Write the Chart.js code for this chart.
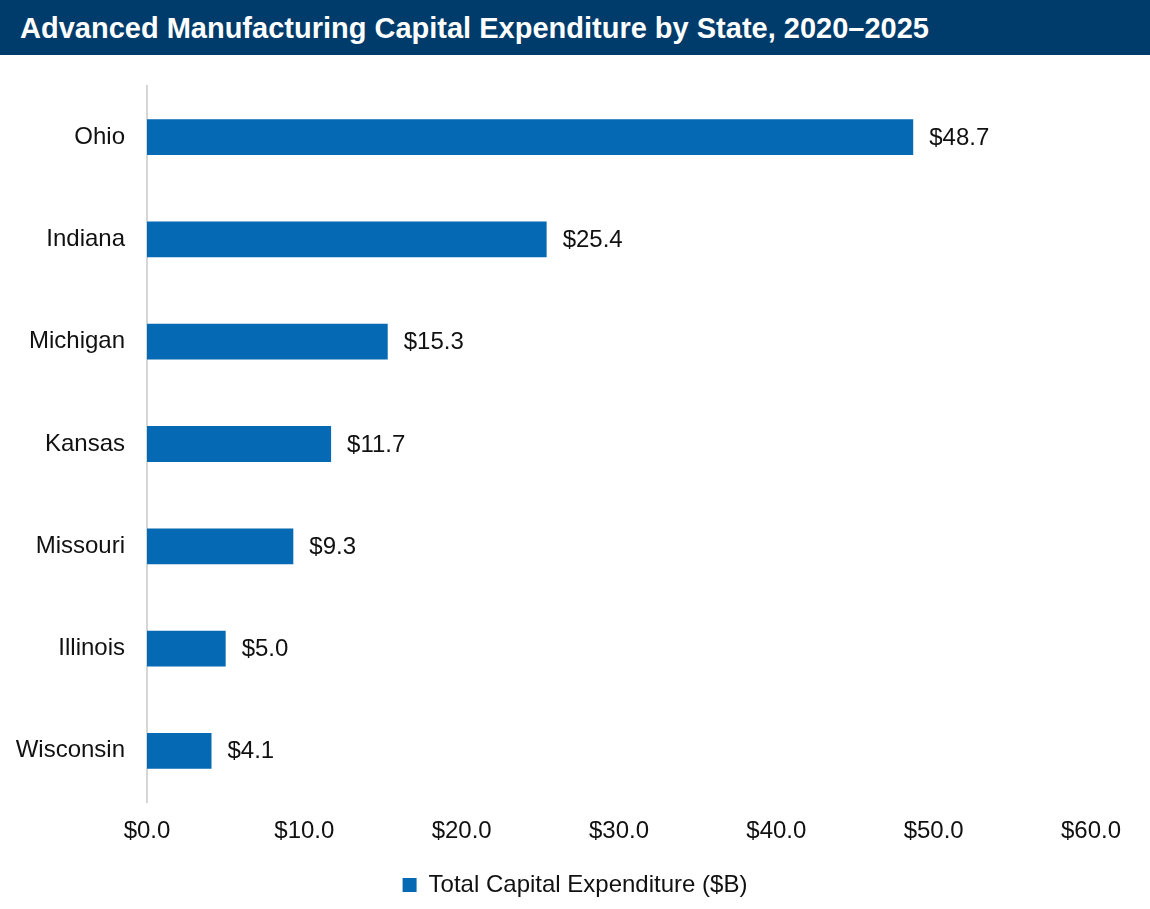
<!DOCTYPE html>
<html>
<head>
<meta charset="utf-8">
<script src="https://cdn.jsdelivr.net/npm/chart.js@4"></script>
<style>
  html, body { margin: 0; padding: 0; background: #fff; }
  body { width: 1150px; height: 909px; overflow: hidden; font-family: "Liberation Sans", Arial, sans-serif; }
  .banner {
    height: 55px; background: #003c6b; color: #fff;
    font-weight: bold; font-size: 29px; line-height: 56px; padding-left: 20px;
    box-sizing: border-box; white-space: nowrap;
  }
  .wrap { position: relative; width: 1150px; height: 854px; }
  canvas { display: block; }
</style>
</head>
<body>
<div class="banner">Advanced Manufacturing Capital Expenditure by State, 2020–2025</div>
<div class="wrap"><canvas id="chart"></canvas></div>
<script>
// values, $ billions
const states = ['Ohio', 'Indiana', 'Michigan', 'Kansas', 'Missouri', 'Illinois', 'Wisconsin'];
const capex = [48.7, 25.4, 15.3, 11.7, 9.3, 5.0, 4.1];
const seriesName = 'Total Capital Expenditure ($B)';
const barColor = '#0569b3';
const fontFamily = '"Liberation Sans", Arial, sans-serif';
const textSize = 24;

const money = v => '$' + Number(v).toFixed(1);

// value labels drawn just past the end of each bar
const barLabels = {
  id: 'barLabels',
  afterDatasetsDraw(chart) {
    const ctx = chart.ctx;
    const meta = chart.getDatasetMeta(0);
    ctx.save();
    ctx.font = textSize + 'px ' + fontFamily;
    ctx.fillStyle = '#111';
    ctx.textAlign = 'left';
    ctx.textBaseline = 'middle';
    meta.data.forEach((bar, i) => {
      ctx.fillText(money(chart.data.datasets[0].data[i]), bar.x + 16, bar.y + 1);
    });
    ctx.restore();
  }
};

// legend is centred on the whole page, not on the padded plot width
const centreLegend = {
  id: 'centreLegend',
  afterLayout(chart) {
    const lg = chart.legend;
    if (!lg) return;
    lg.left = 0;
    lg.right = chart.width;
    lg.width = chart.width;
  }
};

new Chart(document.getElementById('chart'), {
  type: 'bar',
  data: {
    labels: states,
    datasets: [{
      label: seriesName,
      data: capex,
      backgroundColor: barColor,
      categoryPercentage: 1,
      barPercentage: 0.35
    }]
  },
  options: {
    indexAxis: 'y',
    responsive: true,
    maintainAspectRatio: false,
    animation: false,
    layout: { padding: { top: 31, right: 59, left: 0, bottom: 2 } },
    scales: {
      x: {
        min: 0,
        max: 60,
        grid: { display: false, drawTicks: false },
        border: { display: false },
        ticks: {
          stepSize: 10,
          padding: 15,
          color: '#111',
          font: { family: fontFamily, size: textSize },
          callback: v => money(v)
        },
        afterFit: s => { s.height = 61; }
      },
      y: {
        grid: { display: false, drawTicks: true, tickLength: 22 },
        border: { display: true, color: '#d6d6d6', width: 2 },
        ticks: {
          padding: 0,
          color: '#111',
          font: { family: fontFamily, size: textSize }
        },
        afterFit: s => { s.width = 147; }
      }
    },
    plugins: {
      legend: {
        position: 'bottom',
        labels: {
          boxWidth: 14,
          boxHeight: 14,
          color: '#111',
          font: { family: fontFamily, size: textSize }
        }
      },
      tooltip: { enabled: false }
    }
  },
  plugins: [barLabels, centreLegend]
});
</script>
</body>
</html>
